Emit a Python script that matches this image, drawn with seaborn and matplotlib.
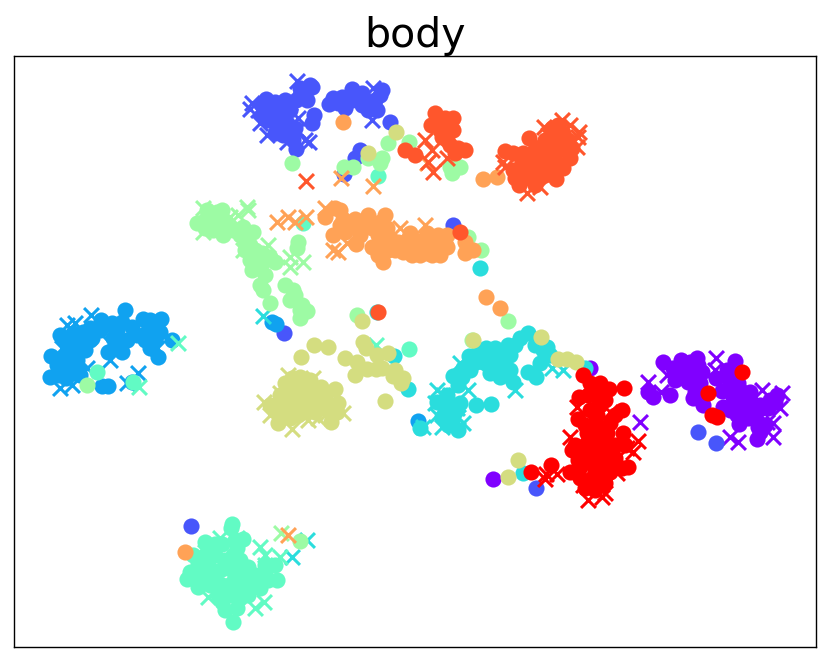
import numpy as np
import pandas as pd
import seaborn as sns
import matplotlib
matplotlib.use("Agg")
import matplotlib.pyplot as plt

sns.set_style("white")

# t-SNE embedding, one pair of lists per class
# c_ = class members drawn as circles, x_ = drawn as crosses
c_0 = [(590, 368), (493, 479), (663, 362), (681, 360), (697, 358), (673, 368), (690, 370), (702, 372), (675, 380),
       (688, 382), (700, 383), (693, 398), (703, 405), (670, 395), (648, 392), (653, 397), (716, 378), (735, 361),
       (727, 370), (738, 383), (722, 391), (733, 397), (750, 392), (723, 407), (743, 403), (752, 407), (737, 415),
       (739, 424), (768, 408), (777, 395), (758, 427), (757, 439), (683, 373), (693, 383), (690, 362), (680, 370),
       (692, 378), (698, 365), (685, 378), (695, 392), (700, 395), (745, 395), (740, 395), (745, 410), (735, 405),
       (730, 410), (750, 400), (730, 390), (740, 390), (735, 375), (728, 378), (760, 405), (775, 402), (770, 400),
       (762, 408), (755, 415), (748, 418), (765, 425), (760, 432)]
x_0 = [(648, 382), (667, 375), (716, 358), (661, 392), (730, 437), (738, 442), (773, 423), (773, 437), (767, 422),
       (640, 422), (780, 408), (782, 393), (762, 390), (715, 370)]
c_1 = [(312, 87), (305, 93), (300, 95), (307, 100), (310, 85), (314, 115), (312, 123), (266, 99), (275, 102),
       (285, 100), (270, 110), (280, 113), (290, 110), (267, 120), (277, 127), (287, 123), (283, 135), (293, 140),
       (296, 149), (290, 127), (329, 104), (333, 98), (342, 97), (352, 89), (347, 102), (358, 98), (370, 102),
       (382, 90), (380, 95), (377, 110), (368, 110), (390, 122), (360, 150), (355, 158), (344, 174), (453, 225),
       (284, 333), (191, 526), (536, 488), (698, 432), (716, 443), (300, 88), (296, 100), (262, 105), (272, 107),
       (282, 107), (262, 115), (272, 118), (282, 118), (275, 133), (288, 132), (295, 128), (338, 103), (352, 100),
       (362, 105), (375, 100), (372, 108), (362, 93), (345, 108)]
x_1 = [(297, 81), (250, 109), (258, 110), (270, 112), (260, 123), (267, 135), (287, 142), (309, 142), (298, 118),
       (297, 130), (252, 103), (290, 103), (305, 140), (373, 88), (372, 120)]
c_2 = [(125, 310), (101, 320), (112, 323), (143, 319), (161, 319), (60, 335), (73, 333), (83, 332), (100, 330),
       (117, 330), (132, 327), (147, 332), (160, 332), (172, 340), (113, 338), (127, 340), (145, 340), (150, 348),
       (158, 357), (108, 352), (122, 352), (83, 343), (73, 345), (51, 356), (63, 357), (77, 360), (62, 368),
       (50, 377), (58, 375), (73, 373), (80, 375), (102, 386), (108, 386), (132, 382), (272, 322), (276, 324),
       (418, 421), (90, 328), (66, 340), (78, 340), (92, 338), (105, 325), (122, 322), (137, 335), (153, 325),
       (155, 340), (118, 345), (68, 352), (57, 365), (70, 366), (66, 378), (78, 368), (90, 340), (85, 350),
       (75, 352), (58, 362), (150, 320)]
x_2 = [(67, 325), (91, 315), (110, 343), (110, 360), (60, 388), (72, 385), (62, 348), (80, 360), (87, 368),
       (138, 373), (127, 383), (157, 348), (75, 323)]
c_3 = [(528, 333), (520, 338), (508, 345), (486, 348), (469, 356), (543, 350), (550, 355), (540, 363), (510, 355),
       (493, 357), (483, 362), (500, 363), (490, 373), (500, 377), (513, 382), (510, 370), (528, 372), (536, 377),
       (470, 370), (453, 376), (462, 377), (458, 385), (476, 405), (491, 404), (460, 403), (443, 403), (442, 417),
       (458, 430), (420, 428), (452, 420), (585, 368), (523, 473), (480, 268), (394, 356), (377, 312), (408, 389),
       (478, 352), (476, 362), (495, 348), (515, 345), (505, 365), (488, 365), (495, 370), (505, 350), (463, 368),
       (447, 395), (445, 410), (452, 408), (437, 402), (448, 425), (455, 412), (535, 345), (547, 347)]
x_3 = [(460, 363), (468, 390), (437, 390), (443, 395), (435, 403), (450, 395), (437, 415), (442, 427), (463, 423),
       (515, 390), (552, 368), (563, 370), (498, 350), (263, 316), (423, 427), (457, 408), (458, 417), (292, 557),
       (307, 540)]
c_4 = [(303, 223), (378, 176), (409, 349), (97, 372), (133, 382), (232, 524), (231, 528), (205, 542), (215, 544),
       (222, 544), (243, 539), (237, 548), (233, 555), (225, 560), (193, 555), (198, 563), (208, 565), (187, 579),
       (198, 577), (208, 575), (198, 587), (228, 568), (242, 568), (248, 567), (255, 575), (265, 572), (277, 580),
       (275, 565), (222, 585), (232, 583), (222, 602), (237, 608), (233, 622), (248, 595), (260, 588), (245, 585),
       (218, 595), (215, 555), (205, 570), (215, 575), (220, 570), (235, 575), (240, 560), (250, 575), (258, 585),
       (268, 580), (230, 595), (240, 598), (210, 585), (190, 572), (205, 555), (235, 540), (265, 565), (235, 590),
       (250, 585), (225, 610)]
x_4 = [(376, 345), (178, 343), (139, 387), (220, 538), (260, 547), (265, 555), (208, 597), (255, 608), (264, 602),
       (280, 557), (265, 565), (205, 552), (237, 538)]
c_5 = [(197, 223), (207, 210), (222, 210), (213, 220), (223, 235), (213, 230), (233, 230), (243, 227), (253, 232),
       (245, 240), (255, 250), (270, 257), (262, 263), (250, 260), (298, 242), (297, 248), (270, 303), (295, 295),
       (302, 305), (307, 311), (300, 318), (263, 290), (357, 315), (285, 285), (293, 290), (252, 270), (265, 275),
       (260, 285), (292, 163), (388, 143), (409, 142), (368, 158), (382, 158), (380, 163), (344, 167), (353, 167),
       (452, 173), (450, 167), (460, 167), (468, 237), (481, 250), (87, 385), (300, 541), (472, 340), (508, 321),
       (205, 220), (217, 212), (205, 228), (225, 222), (240, 235), (250, 245), (258, 258), (245, 250), (262, 253),
       (275, 262), (255, 268), (290, 300), (300, 310)]
x_5 = [(203, 208), (247, 207), (238, 215), (233, 232), (203, 232), (268, 245), (243, 250), (290, 257), (303, 262),
       (290, 267), (230, 217), (248, 210), (281, 533)]
c_6 = [(301, 357), (314, 345), (328, 347), (362, 321), (363, 342), (366, 348), (345, 358), (357, 362), (355, 375),
       (367, 369), (377, 355), (388, 353), (376, 369), (382, 368), (395, 370), (393, 376), (403, 378), (401, 383),
       (385, 401), (300, 377), (285, 383), (310, 380), (321, 387), (335, 389), (290, 393), (303, 390), (277, 410),
       (283, 412), (278, 423), (295, 407), (307, 403), (298, 415), (318, 405), (338, 403), (337, 412), (331, 422),
       (293, 400), (315, 397), (473, 340), (541, 337), (558, 359), (567, 359), (576, 362), (518, 460), (508, 477),
       (396, 132), (368, 153), (292, 378), (300, 385), (280, 395), (290, 385), (285, 403), (300, 400), (310, 392),
       (325, 397), (305, 412), (290, 418), (328, 410), (325, 400), (270, 405), (315, 412)]
x_6 = [(264, 402), (288, 375), (280, 393), (292, 429), (308, 420), (320, 407), (318, 418), (343, 413), (270, 415),
       (313, 378), (325, 415)]
c_7 = [(335, 208), (325, 217), (343, 219), (355, 219), (333, 235), (350, 227), (368, 215), (385, 215), (372, 228),
       (387, 228), (356, 244), (372, 247), (383, 242), (383, 262), (398, 242), (407, 240), (403, 252), (417, 250),
       (427, 253), (440, 255), (427, 233), (438, 235), (447, 247), (447, 235), (465, 242), (473, 250), (465, 253),
       (410, 233), (343, 122), (483, 179), (497, 177), (486, 297), (500, 308), (185, 552), (340, 225), (345, 232),
       (360, 228), (365, 222), (378, 235), (390, 238), (395, 250), (415, 240), (425, 243), (435, 245), (445, 243),
       (378, 255), (412, 255), (360, 235), (388, 250), (432, 255), (380, 222), (340, 210), (420, 255), (405, 245)]
x_7 = [(325, 208), (338, 252), (333, 250), (347, 243), (400, 228), (425, 225), (277, 222), (288, 217), (295, 222),
       (306, 217), (341, 178), (373, 186), (427, 163), (288, 535)]
c_8 = [(435, 113), (431, 125), (453, 118), (443, 125), (453, 130), (442, 137), (450, 145), (465, 150), (455, 153),
       (405, 150), (415, 155), (505, 151), (513, 153), (529, 138), (523, 153), (522, 162), (533, 152), (540, 147),
       (550, 143), (563, 133), (568, 140), (560, 147), (570, 158), (563, 168), (556, 179), (547, 158), (538, 178),
       (535, 185), (515, 178), (519, 185), (540, 163), (513, 170), (553, 135), (378, 312), (460, 232), (445, 118),
       (440, 130), (447, 140), (458, 148), (437, 120), (528, 158), (535, 160), (545, 150), (555, 150), (565, 150),
       (555, 160), (550, 170), (545, 175), (530, 168), (525, 172), (558, 125), (560, 138), (572, 148), (535, 168),
       (545, 140), (520, 170), (552, 128), (525, 178)]
x_8 = [(425, 140), (432, 150), (428, 162), (433, 172), (447, 158), (544, 127), (562, 120), (570, 125), (579, 132),
       (505, 167), (527, 193), (527, 178), (503, 162), (540, 187), (577, 147), (548, 135), (578, 137), (306, 181)]
c_9 = [(583, 375), (590, 383), (600, 383), (609, 389), (624, 388), (597, 397), (579, 397), (578, 419), (622, 410),
       (597, 415), (595, 422), (610, 423), (607, 433), (623, 433), (587, 433), (587, 443), (572, 450), (583, 450),
       (600, 453), (610, 453), (628, 467), (570, 472), (580, 467), (593, 463), (610, 463), (605, 483), (585, 488),
       (551, 465), (531, 472), (622, 468), (742, 372), (708, 393), (712, 415), (717, 417), (590, 410), (600, 405),
       (605, 400), (585, 425), (600, 430), (615, 415), (595, 440), (608, 443), (578, 460), (590, 455), (600, 465),
       (615, 445), (615, 458), (575, 445), (592, 478), (580, 455), (590, 445), (625, 445), (600, 475), (588, 395),
       (595, 490), (580, 478), (610, 472), (595, 470)]
x_9 = [(570, 437), (577, 407), (610, 412), (638, 441), (627, 448), (633, 452), (557, 474), (546, 474), (588, 500),
       (605, 493), (583, 485), (597, 443), (593, 390), (617, 473), (602, 497), (545, 479)]

circles = [c_0, c_1, c_2, c_3, c_4, c_5, c_6, c_7, c_8, c_9]
crosses = [x_0, x_1, x_2, x_3, x_4, x_5, x_6, x_7, x_8, x_9]
colors = plt.get_cmap("rainbow")(np.linspace(0, 1, 10))

fig = plt.figure(figsize=(8.3, 6.62), dpi=100)
ax = fig.add_axes([14 / 830, 1 - 647 / 662, 802 / 830, 591 / 662])

# each class: circles first, then its crosses on top
for pts_c, pts_x, col in zip(circles, crosses, colors):
    df_c = pd.DataFrame(pts_c, columns=["x", "y"])
    df_x = pd.DataFrame(pts_x, columns=["x", "y"])
    sns.scatterplot(data=df_c, x="x", y="y", color=col, marker="o", s=135, linewidth=0, ax=ax)
    sns.scatterplot(data=df_x, x="x", y="y", color=col, marker="x", s=115, linewidth=2.2, ax=ax)

ax.set_xlim(14, 816)
ax.set_ylim(647, 56)
ax.set_xticks([])
ax.set_yticks([])
ax.set_xlabel("")
ax.set_ylabel("")
for s in ax.spines.values():
    s.set_visible(True)
    s.set_color("black")
    s.set_linewidth(1)
ax.set_title("body", fontsize=29.5, pad=5, color="black")

fig.savefig("out.png", dpi=100)
